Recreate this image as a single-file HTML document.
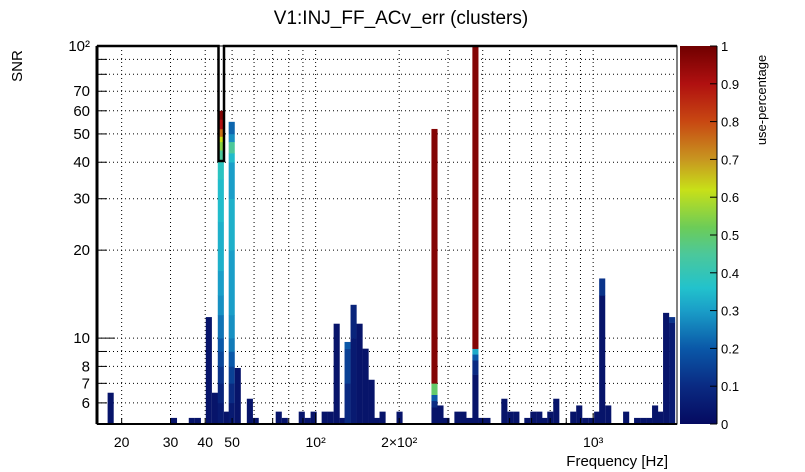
<!DOCTYPE html>
<html><head><meta charset="utf-8"><style>
html,body{margin:0;padding:0;background:#fff;}
svg{display:block;font-family:"Liberation Sans",Arial,sans-serif;}
</style></head><body>
<svg id="chart" width="805" height="472" viewBox="0 0 805 472" xmlns="http://www.w3.org/2000/svg">
<defs>
<linearGradient id="cbar" x1="0" y1="1" x2="0" y2="0">
<stop offset="0" stop-color="#050a60"/><stop offset="0.1" stop-color="#0a2a82"/><stop offset="0.2" stop-color="#0a58a8"/><stop offset="0.3" stop-color="#1a9ec8"/><stop offset="0.36" stop-color="#22c2cc"/><stop offset="0.45" stop-color="#4cc89a"/><stop offset="0.52" stop-color="#6ccc58"/><stop offset="0.62" stop-color="#c8e018"/><stop offset="0.7" stop-color="#c89620"/><stop offset="0.8" stop-color="#c84812"/><stop offset="0.9" stop-color="#b01010"/><stop offset="1" stop-color="#700000"/>
</linearGradient>
</defs>
<text x="401" y="24" font-size="19" text-anchor="middle">V1:INJ_FF_ACv_err (clusters)</text>
<text transform="translate(22,66) rotate(-90)" font-size="15" text-anchor="middle">SNR</text>
<text x="668" y="466" font-size="15" text-anchor="end">Frequency [Hz]</text>
<g id="grid"></g>
<g id="bars"></g>
<path d="M97,46 H218.5 V161 H224 V46 H677" fill="none" stroke="#000" stroke-width="2.5"/>
<g id="axes"></g>
<g id="colorbar"></g>
<text transform="translate(766,100) rotate(-90)" font-size="13" text-anchor="middle">use-percentage</text>
</svg>
<script>
const NS="http://www.w3.org/2000/svg";
const xMin=16.3,xMax=2005,yMin=5.08,yMax=100;
const binLogWidth=0.0209;
const binFreqs=[17.8,30.1,34.9,36.7,40.2,42.3,44.4,46.7,48.6,51.1,56.5,59.3,71.8,75.5,86.9,91.3,95.9,105.1,110.4,116.1,122,127.1,133.6,140.4,147.6,155.1,161.7,169.9,195.6,261.4,274.7,288.7,316.2,332.4,349.4,367.1,385.9,405.6,466.7,490.5,515.6,564.8,593.6,623.7,650.1,683.3,718.1,826.6,868.7,912.8,959.4,1008,1051,1105,1282,1404,1476,1551,1630,1699,1786,1877];
const binTops=[6.5,5.33,5.33,5.33,11.8,6.5,60,5.6,55,7.9,6.2,5.33,5.6,5.33,5.6,5.33,5.6,5.6,5.6,11.2,5.33,9.7,13.0,11.2,9.2,7.2,5.33,5.6,5.6,52,5.88,5.33,5.6,5.6,5.33,100,5.33,5.33,6.2,5.6,5.6,5.33,5.6,5.6,5.33,5.6,6.2,5.6,5.88,5.33,5.33,5.6,16,5.88,5.6,5.33,5.33,5.33,5.88,5.6,12.2,11.8];
const defaultUse=0.03;
// per-column use-percentage segments: [upper SNR, use]
const specialFreqs=[44.4,48.6,261.4,367.1,1051,127.1,1877,133.6];
const specialSegs=[
 [[6,0.05],[7,0.08],[8,0.12],[9,0.16],[10,0.2],[12,0.24],[14,0.28],[17,0.3],[25,0.33],[35,0.35],[40,0.38],[44,0.45],[47,0.55],[49,0.62],[52,0.75],[56,0.9],[60,0.97]],
 [[6,0.05],[7,0.1],[8,0.15],[9,0.2],[10,0.25],[12,0.28],[20,0.3],[30,0.33],[40,0.3],[43,0.35],[47,0.45],[50,0.28],[55,0.22]],
 [[5.8,0.03],[6.1,0.1],[6.4,0.2],[7.0,0.5],[52,0.97]],
 [[7.5,0.03],[8.4,0.1],[8.8,0.2],[9.2,0.32],[100,0.97]],
 [[14,0.03],[16,0.12]],
 [[7,0.1],[9.2,0.15],[9.7,0.2]],
 [[11.3,0.05],[11.8,0.12]],
 [[10,0.05],[13,0.08]]
];
const xTickVals=[20,30,40,50,100,200,1000];
const xTickLabels=["20","30","40","50","10²","2×10²","10³"];
const yTickVals=[6,7,8,10,20,30,40,50,60,70,100];
const yTickLabels=["6","7","8","10","20","30","40","50","60","70","10²"];
const cbTickVals=[0,0.1,0.2,0.3,0.4,0.5,0.6,0.7,0.8,0.9,1];
const cbTickLabels=["0","0.1","0.2","0.3","0.4","0.5","0.6","0.7","0.8","0.9","1"];

const L=97,R=677,T=46,B=424;
const lg=Math.log10;
function xS(f){return L+(lg(f)-lg(xMin))/(lg(xMax)-lg(xMin))*(R-L);}
function yS(s){return B-(lg(s)-lg(yMin))/(lg(yMax)-lg(yMin))*(B-T);}
const stops=[[0,[5,10,96]],[0.1,[10,42,130]],[0.2,[10,88,168]],[0.3,[26,158,200]],[0.36,[34,194,204]],[0.45,[76,200,154]],[0.52,[108,204,88]],[0.62,[200,224,24]],[0.7,[200,150,32]],[0.8,[200,72,18]],[0.9,[176,16,16]],[1,[112,0,0]]];
function cmap(u){
 for(let i=1;i<stops.length;i++){if(u<=stops[i][0]){const a=stops[i-1],b=stops[i];const t=(u-a[0])/(b[0]-a[0]);
  const c=a[1].map((v,k)=>Math.round(v+(b[1][k]-v)*t));return `rgb(${c[0]},${c[1]},${c[2]})`;}}
 return "rgb(112,0,0)";
}
function mk(tag,attrs,parent){const e=document.createElementNS(NS,tag);for(const k in attrs)e.setAttribute(k,attrs[k]);parent.appendChild(e);return e;}

const grid=document.getElementById('grid');
const gx=[20,30,40,50,60,70,80,90,100,200,300,400,500,600,700,800,900,1000];
gx.forEach(v=>{const l=mk('line',{x1:xS(v),x2:xS(v),y1:T,y2:B,stroke:'#000','stroke-width':1,'stroke-dasharray':'1,3'},grid);
 
 });
const gy=[6,7,8,9,10,20,30,40,50,60,70,80,90];
gy.forEach(v=>{const l=mk('line',{x1:L,x2:R,y1:yS(v),y2:yS(v),stroke:'#000','stroke-width':1,'stroke-dasharray':'1,3'},grid);
 
 });

const bars=document.getElementById('bars');
binFreqs.forEach((f,i)=>{
 const x0=xS(f),x1=xS(Math.pow(10,lg(f)+binLogWidth));
 const si=specialFreqs.indexOf(f);
 const top=binTops[i];
 let segs=si>=0?specialSegs[si].slice():[[top,defaultUse]];
 if(segs[segs.length-1][0]<top)segs.push([top,defaultUse]);
 const g=mk('g',{},bars);
 
 
 let lo=yMin;
 segs.forEach(s=>{
  const hi=Math.min(s[0],top);if(hi<=lo)return;
  const r=mk('rect',{x:x0,width:x1-x0+0.3,y:yS(hi),height:yS(lo)-yS(hi)+0.3,fill:cmap(s[1])},g);
  
  
  lo=hi;
 });
});

const ax=document.getElementById('axes');
mk('rect',{x:L,y:T,width:R-L,height:B-T,fill:'none',stroke:'#000','stroke-width':1},ax);
mk('line',{x1:L,x2:L,y1:T,y2:B,stroke:'#000','stroke-width':3},ax);
mk('line',{x1:L,x2:R,y1:B,y2:B,stroke:'#000','stroke-width':2},ax);
gx.forEach(v=>{const major=[100,1000].includes(v);mk('line',{x1:xS(v),x2:xS(v),y1:B,y2:B-(major?11:6),stroke:'#000','stroke-width':1},ax);});
gy.forEach(v=>{const major=[10].includes(v);mk('line',{x1:L,x2:L+(major?18:10),y1:yS(v),y2:yS(v),stroke:'#000','stroke-width':1},ax);});
xTickVals.forEach((v,i)=>{const t=mk('text',{x:xS(v),y:447,'font-size':14,'text-anchor':'middle'},ax);t.textContent=xTickLabels[i];
 
 });
yTickVals.forEach((v,i)=>{const t=mk('text',{x:L-7,y:yS(v)+5,'font-size':15,'text-anchor':'end'},ax);t.textContent=yTickLabels[i];
 
 });

const cb=document.getElementById('colorbar');
const CL=680,CR=717;
const cr=mk('rect',{x:CL,y:T,width:CR-CL,height:B-T,fill:'url(#cbar)'},cb);


mk('line',{x1:CR,x2:CR,y1:T,y2:B,stroke:'#000','stroke-width':1},cb);
cbTickVals.forEach((v,i)=>{const y=B-v*(B-T);
 mk('line',{x1:CR-7,x2:CR,y1:y,y2:y,stroke:'#000','stroke-width':1},cb);
 const t=mk('text',{x:CR+4,y:y+5,'font-size':13},cb);t.textContent=cbTickLabels[i];
 
 });
</script>
</body></html>
